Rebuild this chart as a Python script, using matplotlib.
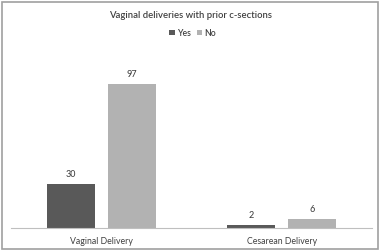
import matplotlib
matplotlib.use("Agg")
import matplotlib.pyplot as plt
import numpy as np
from matplotlib.patches import Rectangle

categories = ["Vaginal Delivery", "Cesarean Delivery"]
series_names = ["Yes", "No"]
yes_values = [30, 2]
no_values = [97, 6]

plt.rcParams['font.family'] = ['Lato', 'DejaVu Sans']
fig = plt.figure(figsize=(3.82, 2.53), dpi=100)
fig.patch.set_facecolor("white")
ax = fig.add_axes([0.0288, 0.0949, 0.974 - 0.0288, 0.798 - 0.0949])

x = np.arange(len(categories))
w = 0.266
off = 0.168
c_yes = "#595959"
c_no = "#b2b2b2"
b1 = ax.bar(x - off, yes_values, w, color=c_yes, label=series_names[0])
b2 = ax.bar(x + off, no_values, w, color=c_no, label=series_names[1])
for bars, vals in ((b1, yes_values), (b2, no_values)):
    for b, v in zip(bars, vals):
        ax.text(b.get_x() + b.get_width() / 2, v + 4, str(v), ha="center", va="bottom",
                fontsize=6.5, color="#404040", fontweight="medium")

ax.set_xlim(-0.5, 1.5)
ax.set_ylim(0, 120)
for s in ["top", "right", "left"]:
    ax.spines[s].set_visible(False)
ax.spines["bottom"].set_color("#bfbfbf")
ax.spines["bottom"].set_linewidth(0.8)
ax.set_yticks([])
ax.set_xticks(x)
ax.set_xticklabels(categories, fontsize=6.3, color="#404040")
ax.tick_params(axis="x", length=0, pad=6)

fig.text(0.5, 1 - 16 / 253, "Vaginal deliveries with prior c-sections", ha="center", va="center",
         fontsize=6.8, color="#404040", fontweight="semibold")
fig.legend(handles=[b1, b2], labels=series_names, loc="center", bbox_to_anchor=(0.505, 1 - 34 / 253),
           ncol=2, frameon=False, handlelength=0.6, handleheight=0.6,
           handletextpad=0.3, columnspacing=0.7, labelcolor="#404040",
           prop={'weight': 'semibold', 'size': 6.2})

fig.add_artist(Rectangle((2 / 382, 3 / 253), 376 / 382, 247 / 253, transform=fig.transFigure,
                         fill=False, edgecolor="#a0a0a0", linewidth=1.2))

fig.savefig("out.png", dpi=100)
